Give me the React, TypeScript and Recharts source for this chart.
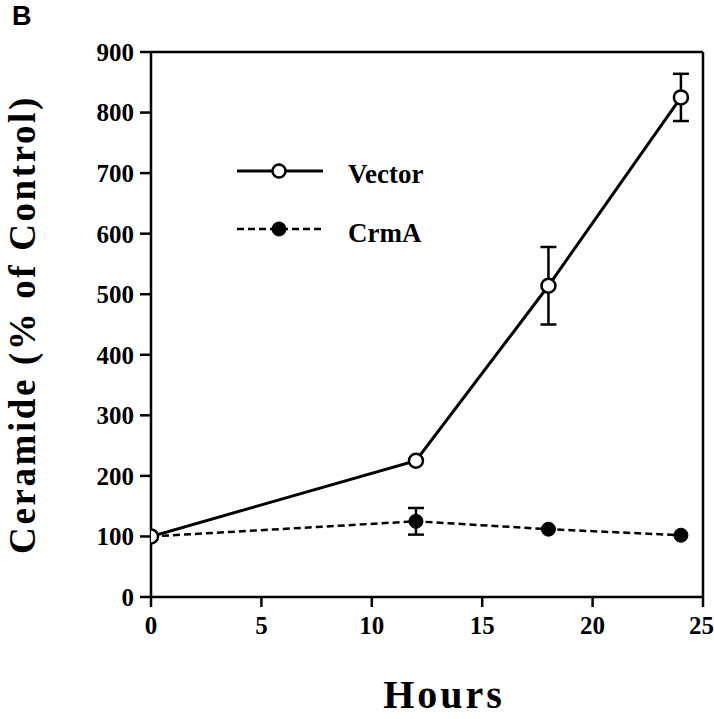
import React from 'react';
import { LineChart, Line, XAxis, YAxis, ErrorBar, ReferenceLine, Legend } from 'recharts';

const hours = [0, 12, 18, 24];
const vectorValues = [100, 225, 514, 825];
const vectorErrors = [null, null, 64, 39];
const crmAValues = [100, 125, 112, 102];
const crmAErrors = [null, 22, null, null];
const xTicks = [0, 5, 10, 15, 20, 25];
const yTicks = [0, 100, 200, 300, 400, 500, 600, 700, 800, 900];
const seriesNames = ['Vector', 'CrmA'];
const xLabel = 'Hours';
const yLabel = 'Ceramide (% of Control)';
const panelLabel = 'B';

const data = hours.map((h, i) => ({
  hours: h,
  vector: vectorValues[i],
  vectorErr: vectorErrors[i],
  crmA: crmAValues[i],
  crmAErr: crmAErrors[i],
}));

const SERIF = '"Liberation Serif", "Times New Roman", serif';

const LegendContent = () => (
  <svg width={260} height={110} style={{ overflow: 'visible' }}>
    <line x1={7} y1={21} x2={93} y2={21} stroke="#000" strokeWidth={3} />
    <circle cx={49} cy={21} r={6.5} fill="#fff" stroke="#000" strokeWidth={2.5} />
    <text x={118} y={33} fontFamily={SERIF} fontWeight="bold" fontSize={27} fill="#000">{seriesNames[0]}</text>
    <line x1={7} y1={79} x2={93} y2={79} stroke="#000" strokeWidth={2.5} strokeDasharray="7 4" />
    <circle cx={49} cy={79} r={7} fill="#000" stroke="#000" strokeWidth={1} />
    <text x={118} y={92} fontFamily={SERIF} fontWeight="bold" fontSize={27} fill="#000">{seriesNames[1]}</text>
  </svg>
);

export default function App() {
  return (
    <div style={{ position: 'absolute', left: 0, top: 0, width: 714, height: 719, background: '#fff' }}>
      <div style={{ position: 'absolute', left: 12, top: 1, fontFamily: '"Liberation Sans", Arial, sans-serif', fontWeight: 'bold', fontSize: 27, color: '#000' }}>{panelLabel}</div>
      <LineChart width={714} height={719} data={data} margin={{ top: 52, right: 11, bottom: 0, left: 0 }}>
        <XAxis
          dataKey="hours"
          type="number"
          domain={[0, 25]}
          ticks={xTicks}
          allowDataOverflow
          height={122}
          tickSize={10}
          tickMargin={9}
          axisLine={{ stroke: '#000', strokeWidth: 2.5 }}
          tickLine={{ stroke: '#000', strokeWidth: 2.5 }}
          tick={{ fill: '#000', fontFamily: SERIF, fontWeight: 'bold', fontSize: 25 }}
          label={{
            content: (props: any) => {
              const vb = props.viewBox || { x: 151, y: 597, width: 552 };
              return (
                <text x={vb.x + vb.width / 2 + 17} y={vb.y + 111} textAnchor="middle" fontFamily={SERIF} fontWeight="bold" fontSize={40} letterSpacing={3} fill="#000">{xLabel}</text>
              );
            },
          }}
        />
        <YAxis
          type="number"
          domain={[0, 900]}
          ticks={yTicks}
          width={151}
          tickSize={11}
          tickMargin={6}
          axisLine={{ stroke: '#000', strokeWidth: 2.5 }}
          tickLine={{ stroke: '#000', strokeWidth: 2.5 }}
          tick={{ fill: '#000', fontFamily: SERIF, fontWeight: 'bold', fontSize: 25 }}
          label={{
            content: (props: any) => {
              const vb = props.viewBox || { x: 0, y: 52, height: 545 };
              const cy = vb.y + vb.height / 2;
              return (
                <text x={35} y={cy} transform={`rotate(-90, 35, ${cy})`} textAnchor="middle" fontFamily={SERIF} fontWeight="bold" fontSize={37} letterSpacing={2.6} fill="#000">{yLabel}</text>
              );
            },
          }}
        />
        <ReferenceLine y={900} stroke="#000" strokeWidth={2.5} />
        <ReferenceLine x={25} stroke="#000" strokeWidth={2.5} />
        <Legend
          layout="vertical"
          align="center"
          verticalAlign="middle"
          content={LegendContent}
          wrapperStyle={{ left: 230, top: 150, width: 260, height: 110 }}
        />
        <Line
          dataKey="crmA"
          name={seriesNames[1]}
          stroke="#000"
          strokeWidth={2.5}
          strokeDasharray="7 4"
          dot={{ r: 7, fill: '#000', stroke: '#000', strokeWidth: 1, strokeDasharray: '' }}
          isAnimationActive={false}
        >
          <ErrorBar dataKey="crmAErr" width={8} stroke="#000" strokeWidth={2.5} direction="y" />
        </Line>
        <Line
          dataKey="vector"
          name={seriesNames[0]}
          stroke="#000"
          strokeWidth={3}
          dot={{ r: 7, fill: '#fff', stroke: '#000', strokeWidth: 2.5 }}
          isAnimationActive={false}
        >
          <ErrorBar dataKey="vectorErr" width={8} stroke="#000" strokeWidth={2.5} direction="y" />
        </Line>
      </LineChart>
    </div>
  );
}
